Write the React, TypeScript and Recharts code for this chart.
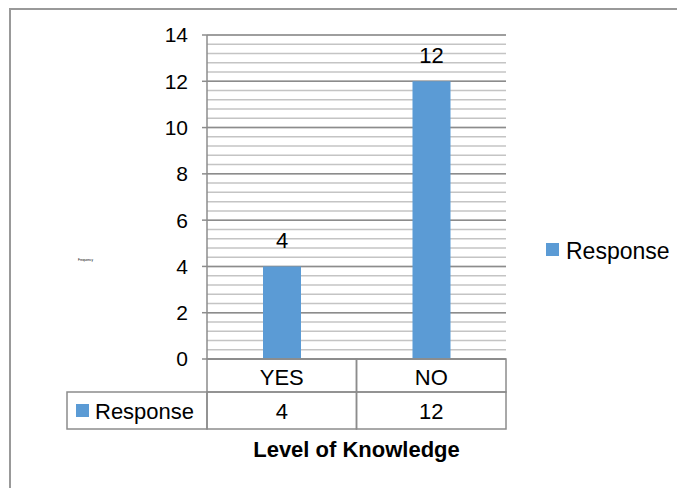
import React from 'react';
import { BarChart, Bar, XAxis, YAxis, CartesianGrid, LabelList } from 'recharts';

const categories = ['YES', 'NO'];
const responses = [4, 12];
const seriesName = 'Response';
const yTicks = [0, 2, 4, 6, 8, 10, 12, 14];
const minorValues = Array.from({ length: 36 }, (_, i) => Math.round(i * 4) / 10);
const xTitle = 'Level of Knowledge';
const yTitle = 'Frequency';

const data = categories.map((c, i) => ({ name: c, response: responses[i] }));

const W = 677;
const H = 488;
const PLOT_LEFT = 207;
const PLOT_RIGHT = 506;
const PLOT_TOP = 35;
const PLOT_BOTTOM = 359;
const ROW1_H = 33;
const ROW2_H = 37;
const LEGEND_CELL_LEFT = 67;
const CELL_W = (PLOT_RIGHT - PLOT_LEFT) / categories.length;
const FONT = '"Liberation Sans", Arial, sans-serif';
const BORDER = '#8c8c8c';
const BAR = '#5B9BD5';

const TableTick = (props: any) => {
  const { x, index, payload } = props;
  const left = x - CELL_W / 2;
  const y2 = PLOT_BOTTOM + ROW1_H;
  return (
    <g>
      <rect x={left} y={PLOT_BOTTOM} width={CELL_W} height={ROW1_H} fill="none" stroke={BORDER} strokeWidth={1.5} />
      <text x={x} y={PLOT_BOTTOM + 26} textAnchor="middle" fontSize={22} fontFamily={FONT} fill="#000">
        {payload.value}
      </text>
      <rect x={left} y={y2} width={CELL_W} height={ROW2_H} fill="none" stroke={BORDER} strokeWidth={1.5} />
      <text x={x} y={y2 + 27} textAnchor="middle" fontSize={22} fontFamily={FONT} fill="#000">
        {responses[index]}
      </text>
      {index === 0 && (
        <g>
          <rect x={LEGEND_CELL_LEFT} y={y2} width={PLOT_LEFT - LEGEND_CELL_LEFT} height={ROW2_H} fill="none" stroke={BORDER} strokeWidth={1.5} />
          <rect x={76} y={y2 + 12} width={13} height={13} fill={BAR} />
          <text x={95} y={y2 + 27} fontSize={22} fontFamily={FONT} fill="#000">
            {seriesName}
          </text>
        </g>
      )}
    </g>
  );
};

export default function App() {
  return (
    <div style={{ position: 'fixed', left: 0, top: 0, width: W, height: H, overflow: 'hidden', background: '#fff' }}>
      <div
        style={{
          position: 'absolute',
          left: 9,
          top: 8,
          width: 900,
          height: 700,
          border: '2px solid #999',
          boxSizing: 'border-box',
        }}
      />
      <div style={{ position: 'absolute', left: 0, top: 0 }}>
        <BarChart
          width={W}
          height={H}
          data={data}
          margin={{ top: PLOT_TOP, right: W - PLOT_RIGHT, bottom: H - PLOT_BOTTOM - ROW1_H - ROW2_H, left: 150 }}
          barSize={38}
        >
          <CartesianGrid horizontal vertical={false} horizontalValues={minorValues} stroke="#c4c4c4" strokeWidth={1.5} />
          <CartesianGrid horizontal vertical={false} horizontalValues={yTicks} stroke={BORDER} strokeWidth={1.5} />
          <XAxis
            dataKey="name"
            height={ROW1_H + ROW2_H}
            tickLine={false}
            axisLine={{ stroke: BORDER, strokeWidth: 1.5 }}
            tick={<TableTick />}
            interval={0}
            label={{ value: xTitle, position: 'bottom', offset: 12, fontSize: 22, fontWeight: 'bold', fill: '#000', fontFamily: FONT }}
          />
          <YAxis
            width={PLOT_LEFT - 150}
            domain={[0, 14]}
            ticks={yTicks}
            interval={0}
            tickSize={5}
            tickMargin={14}
            tickLine={{ stroke: BORDER, strokeWidth: 1.5 }}
            axisLine={{ stroke: BORDER, strokeWidth: 1.5 }}
            tick={{ fontSize: 21, fill: '#000', fontFamily: FONT }}
          />
          <Bar dataKey="response" name={seriesName} fill={BAR} isAnimationActive={false}>
            <LabelList dataKey="response" position="top" offset={18} fontSize={22} fill="#000" fontFamily={FONT} />
          </Bar>
        </BarChart>
      </div>
      <div style={{ position: 'absolute', left: 78, top: 258, fontSize: 3.2, fontFamily: FONT, color: '#000', whiteSpace: 'nowrap' }}>
        {yTitle}
      </div>
      <div style={{ position: 'absolute', left: 546, top: 240, display: 'flex', alignItems: 'flex-start', fontFamily: FONT }}>
        <span style={{ display: 'inline-block', width: 13, height: 13, background: BAR, marginTop: 3, marginRight: 7 }} />
        <span style={{ fontSize: 23, lineHeight: '23px', color: '#000' }}>{seriesName}</span>
      </div>
    </div>
  );
}
